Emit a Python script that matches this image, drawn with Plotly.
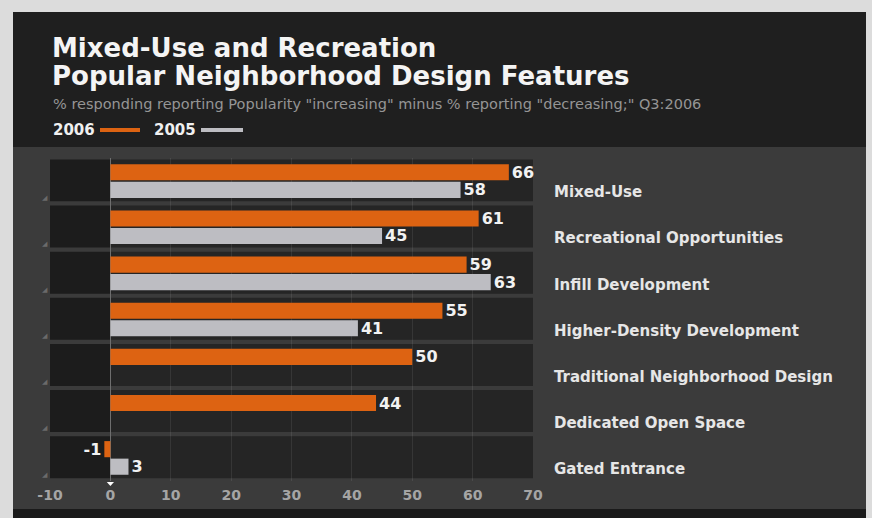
import plotly.graph_objects as go

W, H = 872, 518

categories = [
    "Mixed-Use",
    "Recreational Opportunities",
    "Infill Development",
    "Higher-Density Development",
    "Traditional Neighborhood Design",
    "Dedicated Open Space",
    "Gated Entrance",
]
values_2006 = [66, 61, 59, 55, 50, 44, -1]
values_2005 = [58, 45, 63, 41, None, None, 3]
x_ticks = [-10, 0, 10, 20, 30, 40, 50, 60, 70]

ORANGE = "#dd6312"
GREY = "#bdbdc2"
FONT = "DejaVu Sans"


def px_x(p):
    return p / W


def px_y(p):
    return 1 - p / H


fig = go.Figure()

for name, vals, color in (("2006", values_2006, ORANGE), ("2005", values_2005, GREY)):
    fig.add_trace(go.Bar(
        name=name,
        y=categories,
        x=vals,
        orientation="h",
        marker=dict(color=color, line=dict(width=0)),
        text=[("" if v is None else f"<b>{v}</b>") for v in vals],
        textposition="outside",
        textfont=dict(family=FONT, size=16, color="#f2f2f2"),
        constraintext="none",
        cliponaxis=False,
        showlegend=False,
        hoverinfo="skip",
    ))

shapes = []
# outer panel, header band and bottom strip
shapes.append(dict(type="rect", xref="paper", yref="paper", layer="below",
                   x0=px_x(13), x1=px_x(866), y0=px_y(12), y1=px_y(512),
                   fillcolor="#3b3b3b", line=dict(width=0)))
shapes.append(dict(type="rect", xref="paper", yref="paper", layer="below",
                   x0=px_x(13), x1=px_x(866), y0=px_y(12), y1=px_y(147),
                   fillcolor="#1f1f1f", line=dict(width=0)))
shapes.append(dict(type="rect", xref="paper", yref="paper", layer="below",
                   x0=px_x(13), x1=px_x(866), y0=px_y(509), y1=px_y(518),
                   fillcolor="#1a1a1a", line=dict(width=0)))

# one dark box per category row
for i in range(len(categories)):
    shapes.append(dict(type="rect", xref="x", yref="y", layer="below",
                       x0=-10, x1=0, y0=i - 0.47, y1=i + 0.44,
                       fillcolor="#1c1c1c", line=dict(width=0)))
    shapes.append(dict(type="rect", xref="x", yref="y", layer="below",
                       x0=0, x1=70, y0=i - 0.47, y1=i + 0.44,
                       fillcolor="#252525", line=dict(width=0)))

# small white pointer under the zero tick
shapes.append(dict(type="path", xref="x", yref="paper",
                   path=f"M -0.6,{px_y(482)} L 0.6,{px_y(482)} L 0,{px_y(486)} Z",
                   fillcolor="#ffffff", line=dict(width=0)))

# legend swatches
shapes.append(dict(type="line", xref="paper", yref="paper",
                   x0=px_x(100), x1=px_x(140), y0=px_y(130), y1=px_y(130),
                   line=dict(color=ORANGE, width=4)))
shapes.append(dict(type="line", xref="paper", yref="paper",
                   x0=px_x(201), x1=px_x(243), y0=px_y(130), y1=px_y(130),
                   line=dict(color=GREY, width=4)))

annotations = [
    dict(text="<b>Mixed-Use and Recreation</b>", x=px_x(50), y=px_y(48),
         xref="paper", yref="paper", xanchor="left", yanchor="middle", showarrow=False,
         font=dict(family=FONT, size=26, color="#f4f4f4")),
    dict(text="<b>Popular Neighborhood Design Features</b>", x=px_x(50), y=px_y(76),
         xref="paper", yref="paper", xanchor="left", yanchor="middle", showarrow=False,
         font=dict(family=FONT, size=26, color="#f4f4f4")),
    dict(text='% responding reporting Popularity "increasing" minus % reporting "decreasing;" Q3:2006',
         x=px_x(51), y=px_y(104), xref="paper", yref="paper", xanchor="left", yanchor="middle",
         showarrow=False, font=dict(family=FONT, size=14.5, color="#959595")),
    dict(text="<b>2006</b>", x=px_x(51), y=px_y(130), xref="paper", yref="paper",
         xanchor="left", yanchor="middle", showarrow=False,
         font=dict(family=FONT, size=15, color="#f0f0f0")),
    dict(text="<b>2005</b>", x=px_x(152), y=px_y(130), xref="paper", yref="paper",
         xanchor="left", yanchor="middle", showarrow=False,
         font=dict(family=FONT, size=15, color="#f0f0f0")),
]
for i in range(len(categories)):
    annotations.append(dict(text="◢", x=-10, y=i + 0.36, xref="x", yref="y",
                            xanchor="right", yanchor="middle", showarrow=False,
                            font=dict(family=FONT, size=7, color="#6a6a6a")))

fig.update_layout(
    width=W, height=H,
    margin=dict(l=0, r=0, t=0, b=0, pad=0),
    paper_bgcolor="#dcdcdc",
    plot_bgcolor="rgba(0,0,0,0)",
    barmode="group",
    bargap=0.24,
    bargroupgap=0.08,
    shapes=shapes,
    annotations=annotations,
    xaxis=dict(
        domain=[px_x(50), px_x(533)],
        range=[-10, 70],
        tickmode="array",
        tickvals=x_ticks,
        ticktext=[f"<b>{t}</b>" for t in x_ticks],
        tickfont=dict(family=FONT, size=14, color="#a5a5a5"),
        ticklabelstandoff=4,
        showgrid=True,
        gridcolor="rgba(255,255,255,0.08)",
        gridwidth=1,
        zeroline=True,
        zerolinecolor="#6e6e6e",
        zerolinewidth=1,
        showline=False,
        ticks="",
        automargin=False,
        fixedrange=True,
    ),
    yaxis=dict(
        domain=[px_y(481), px_y(158)],
        autorange="reversed",
        side="right",
        tickmode="array",
        tickvals=categories,
        ticktext=[f"<b>{c}</b>" for c in categories],
        tickfont=dict(family=FONT, size=15, color="#e6e6e6"),
        ticklabelstandoff=20,
        ticklabelshift=-11,
        showgrid=False,
        zeroline=False,
        showline=False,
        ticks="",
        automargin=False,
        fixedrange=True,
    ),
)

fig.write_html("out.html", config={"displayModeBar": False})
